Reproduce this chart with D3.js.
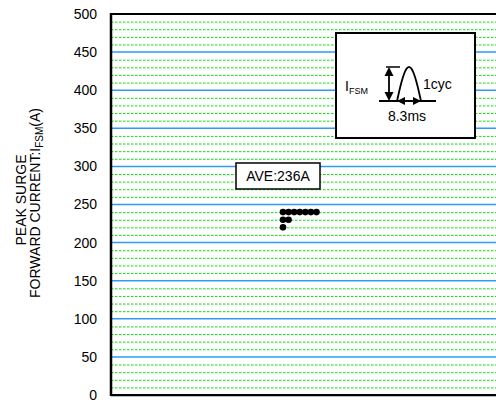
<!DOCTYPE html>
<html>
<head>
<meta charset="utf-8">
<script src="https://cdn.jsdelivr.net/npm/d3@7/dist/d3.min.js"></script>
<style>
  html, body { margin: 0; padding: 0; background: #fff; }
  svg { display: block; }
  text { font-family: Arial, "Liberation Sans", sans-serif; fill: #000; }
</style>
</head>
<body>
<svg id="chart" width="496" height="400"></svg>
<script>
// ---- data ----
const yTicks = [0, 50, 100, 150, 200, 250, 300, 350, 400, 450, 500];
const minorStep = 10;
const samples = [240, 240, 240, 240, 240, 240, 240, 230, 230, 220]; // A
const yTitleLines = ["PEAK SURGE", "FORWARD CURRENT:I"];
const insetLabels = { cyc: "1cyc", width: "8.3ms", sym: "I", sub: "FSM" };

// ---- layout ----
const W = 496, H = 400;
const plot = { left: 111, top: 14, bottom: 395, right: 500 };

const svg = d3.select("#chart");
const y = d3.scaleLinear().domain([0, 500]).range([plot.bottom, plot.top]);

// grid
const g = svg.append("g");
const minor = d3.range(minorStep, 500, minorStep).filter(v => v % 50 !== 0);
g.selectAll("line.minor").data(minor).join("line")
  .attr("x1", plot.left).attr("x2", plot.right)
  .attr("y1", d => y(d) + 0.5).attr("y2", d => y(d) + 0.5)
  .attr("stroke", "#10dd10").attr("stroke-width", 1)
  .attr("stroke-dasharray", "2.5,1.5");
g.selectAll("line.major").data(yTicks.filter(v => v > 0 && v < 500)).join("line")
  .attr("x1", plot.left).attr("x2", plot.right)
  .attr("y1", d => y(d)).attr("y2", d => y(d))
  .attr("stroke", "#2e9cf0").attr("stroke-width", 1.5);

// frame
svg.append("line").attr("x1", plot.left).attr("x2", plot.right)
  .attr("y1", plot.bottom + 1.5).attr("y2", plot.bottom + 1.5)
  .attr("stroke", "#bbb").attr("stroke-width", 1);
svg.append("line").attr("x1", plot.left).attr("x2", plot.right)
  .attr("y1", plot.top).attr("y2", plot.top)
  .attr("stroke", "#000").attr("stroke-width", 2);
svg.append("line").attr("x1", plot.left).attr("x2", plot.right)
  .attr("y1", plot.bottom).attr("y2", plot.bottom)
  .attr("stroke", "#000").attr("stroke-width", 2);
svg.append("line").attr("x1", plot.left).attr("x2", plot.left)
  .attr("y1", plot.top - 1).attr("y2", plot.bottom + 1)
  .attr("stroke", "#000").attr("stroke-width", 2.5);

// y axis
const axis = svg.append("g").attr("transform", `translate(${plot.left},0)`)
  .call(d3.axisLeft(y).tickValues(yTicks).tickSize(0).tickPadding(14));
axis.select(".domain").remove();
axis.selectAll("text").style("font-size", "14px")
  .style("font-family", "Arial, 'Liberation Sans', sans-serif").attr("fill", "#000");

// y title
const tt = svg.append("text").attr("transform", "translate(26,200) rotate(-90)")
  .attr("text-anchor", "middle").style("font-size", "14px");
tt.append("tspan").attr("x", 0).attr("y", 0).text(yTitleLines[0]);
const l2 = svg.append("text").attr("transform", "translate(40,203) rotate(-90)")
  .attr("text-anchor", "middle").style("font-size", "14px");
l2.append("tspan").text(yTitleLines[1]);
l2.append("tspan").attr("dy", 3).style("font-size", "10px").text("FSM");
l2.append("tspan").attr("dy", -3).text("(A)");

// dots: stacked columns for equal values
const counts = {};
const pts = samples.map(v => { const c = counts[v] || 0; counts[v] = c + 1; return { v, col: c }; });
const x = d3.scaleLinear().domain([0, 6]).range([283, 316.5]);
svg.selectAll("circle.pt").data(pts).join("circle")
  .attr("cx", d => x(d.col)).attr("cy", d => y(d.v)).attr("r", 3.3)
  .attr("fill", "#000");

// average label
const ave = Math.round(d3.mean(samples));
svg.append("rect").attr("x", 236).attr("y", 163).attr("width", 84).attr("height", 26)
  .attr("fill", "#fff").attr("stroke", "#000").attr("stroke-width", 1.5);
svg.append("text").attr("x", 278).attr("y", 181).attr("text-anchor", "middle")
  .style("font-size", "14px").text(`AVE:${ave}A`);

// inset
svg.append("rect").attr("x", 336).attr("y", 33).attr("width", 139).attr("height", 105)
  .attr("fill", "#fff").attr("stroke", "#000").attr("stroke-width", 2);
const baseY = 101, peakY = 67, hx0 = 397, hx1 = 421;
svg.append("line").attr("x1", 379).attr("x2", 436).attr("y1", baseY).attr("y2", baseY)
  .attr("stroke", "#000").attr("stroke-width", 2);
const hump = d3.range(0, 1.0001, 0.05).map(t => [hx0 + t * (hx1 - hx0), baseY - Math.sin(Math.PI * t) * (baseY - peakY)]);
svg.append("path").attr("d", d3.line()(hump)).attr("fill", "none").attr("stroke", "#000").attr("stroke-width", 1.8);
// vertical double arrow
const ax = 389;
svg.append("line").attr("x1", ax).attr("x2", ax).attr("y1", peakY + 4).attr("y2", baseY - 4)
  .attr("stroke", "#000").attr("stroke-width", 1.8);
svg.append("path").attr("d", `M${ax},${peakY} L${ax - 4.5},${peakY + 9} L${ax + 4.5},${peakY + 9} Z`).attr("fill", "#000");
svg.append("path").attr("d", `M${ax},${baseY} L${ax - 4.5},${baseY - 9} L${ax + 4.5},${baseY - 9} Z`).attr("fill", "#000");
svg.append("line").attr("x1", ax - 3).attr("x2", hx0 + 3).attr("y1", peakY).attr("y2", peakY)
  .attr("stroke", "#000").attr("stroke-width", 1.5);
// horizontal double arrow
svg.append("line").attr("x1", hx0).attr("x2", hx1).attr("y1", baseY).attr("y2", baseY)
  .attr("stroke", "#000").attr("stroke-width", 1.8);
svg.append("path").attr("d", `M${hx0},${baseY} L${hx0 + 8},${baseY - 4} L${hx0 + 8},${baseY + 4} Z`).attr("fill", "#000");
svg.append("path").attr("d", `M${hx1},${baseY} L${hx1 - 8},${baseY - 4} L${hx1 - 8},${baseY + 4} Z`).attr("fill", "#000");
// inset texts
const it = svg.append("text").attr("x", 345).attr("y", 91).style("font-size", "14px");
it.append("tspan").text(insetLabels.sym);
it.append("tspan").attr("dy", 3).style("font-size", "9px").text(insetLabels.sub);
svg.append("text").attr("x", 423).attr("y", 89).style("font-size", "14px").text(insetLabels.cyc);
svg.append("text").attr("x", 407).attr("y", 121).attr("text-anchor", "middle").style("font-size", "14px").text(insetLabels.width);
</script>
</body>
</html>
